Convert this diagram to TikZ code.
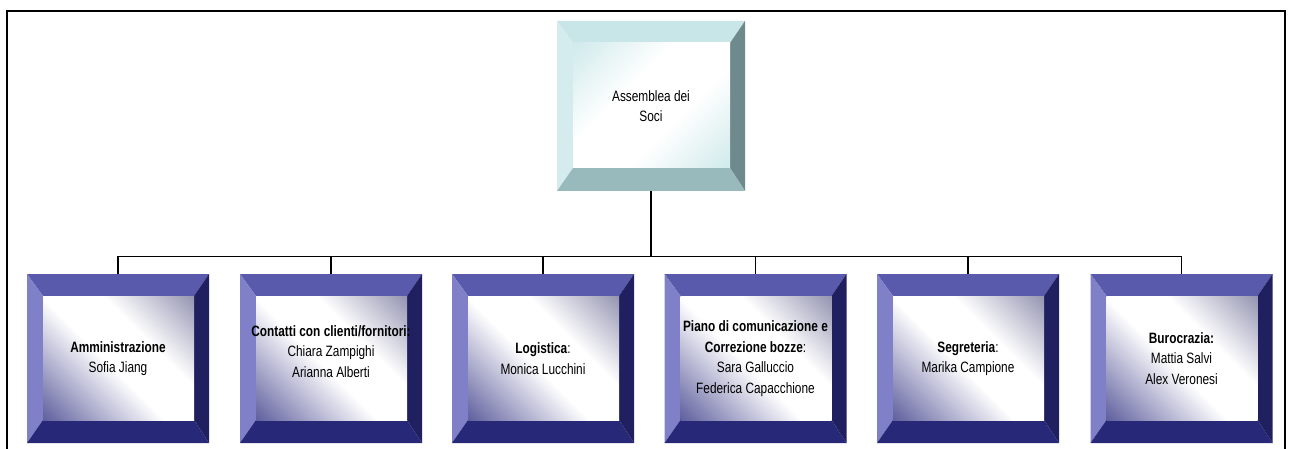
\documentclass[tikz,border=0pt]{standalone}
\usepackage{fontspec}
\setmainfont[FakeStretch=0.79]{Liberation Sans}
\usetikzlibrary{calc}

\definecolor{sociTop}{RGB}{200,230,232}
\definecolor{sociLeft}{RGB}{212,236,238}
\definecolor{sociRight}{RGB}{110,138,140}
\definecolor{sociBottom}{RGB}{152,186,188}
\definecolor{sociIn}{RGB}{196,228,230}
\definecolor{areaTop}{RGB}{90,90,172}
\definecolor{areaLeft}{RGB}{128,128,200}
\definecolor{areaRight}{RGB}{32,32,96}
\definecolor{areaBottom}{RGB}{40,40,120}
\definecolor{areaInA}{RGB}{118,118,156}
\definecolor{areaInB}{RGB}{62,62,138}

% diagonal fades of the inner faces
\pgfdeclareverticalshading{sociFade}{100bp}{color(0bp)=(sociIn); color(8bp)=(sociIn);
  color(40bp)=(white); color(60bp)=(white); color(92bp)=(sociIn); color(100bp)=(sociIn)}
\pgfdeclareverticalshading{areaFade}{100bp}{color(0bp)=(areaInB); color(8bp)=(areaInB);
  color(46bp)=(white); color(62bp)=(white); color(92bp)=(areaInA); color(100bp)=(areaInA)}

\tikzset{
  bevel/.style n args={5}{
    path picture={
      \coordinate (nw) at (path picture bounding box.north west);
      \coordinate (se) at (path picture bounding box.south east);
      \coordinate (nwi) at ($(nw)+(16,22)$);
      \coordinate (sei) at ($(se)+(-15,-23)$);
      \fill[#1] (nw) -- (se |- nw) -- (sei |- nwi) -- (nwi) -- cycle;
      \fill[#2] (nw) -- (nwi) -- (nwi |- sei) -- (nw |- se) -- cycle;
      \fill[#3] (se |- nw) -- (se) -- (sei) -- (sei |- nwi) -- cycle;
      \fill[#4] (nw |- se) -- (nwi |- sei) -- (sei) -- (se) -- cycle;
      \shade[#5] (nwi) rectangle (sei);
    }},
  soci/.style={rectangle, inner sep=0pt, minimum width=188pt, minimum height=170pt,
    align=center, font=\fontsize{15}{20}\selectfont,
    bevel={sociTop}{sociLeft}{sociRight}{sociBottom}{shading=sociFade, shading angle=45}},
  area/.style={rectangle, inner sep=0pt, minimum width=182pt, minimum height=169pt,
    align=center, font=\fontsize{15}{20.5}\selectfont,
    bevel={areaTop}{areaLeft}{areaRight}{areaBottom}{shading=areaFade, shading angle=-45}},
  link/.style={line width=1.2pt}
}

\begin{document}
\begin{tikzpicture}[x=1pt, y=-1pt]
\useasboundingbox (0,0) rectangle (1292,449);
% frame
\draw[line width=2pt] (7,470) -- (7,11) -- (1285,11) -- (1285,470);

\node[soci] (soci) at (651,106) {Assemblea dei\\Soci};

\node[area] (amm) at (118,358.5) {\textbf{Amministrazione}\\Sofia Jiang};
\node[area] (cont) at (331,358.5) {\textbf{Contatti con clienti/fornitori:}\\Chiara Zampighi\\Arianna Alberti\\[-6pt]\mbox{}};
\node[area] (log) at (543,358.5) {\textbf{Logistica}:\\Monica Lucchini};
\node[area] (piano) at (755.5,358.5) {\textbf{Piano di comunicazione e}\\\textbf{Correzione bozze}:\\Sara Galluccio\\Federica Capacchione};
\node[area] (segr) at (968,358.5) {\textbf{Segreteria}:\\Marika Campione};
\node[area] (buro) at (1181.5,358.5) {\textbf{Burocrazia:}\\Mattia Salvi\\Alex Veronesi};

% connectors
\foreach \b in {amm,cont,log,piano,segr,buro}
  \draw[link] (soci.south) -- ++(0,65) -| (\b.north);
\end{tikzpicture}
\end{document}
